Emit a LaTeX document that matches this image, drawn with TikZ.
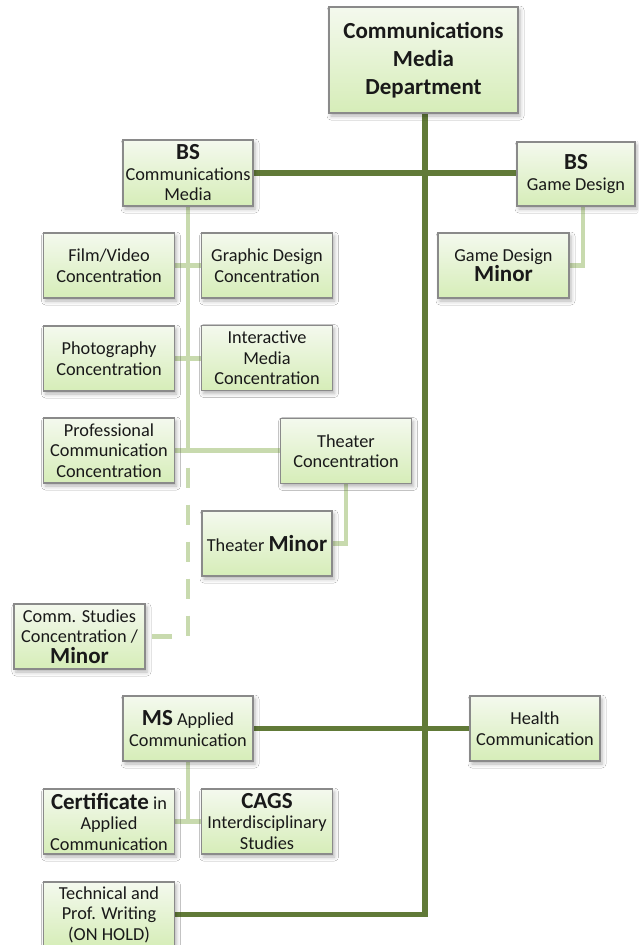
\documentclass[tikz,border=0pt]{standalone}
\usepackage{fontspec}
\setmainfont{Carlito}
\usetikzlibrary{shadows.blur,backgrounds}
\definecolor{boxtop}{HTML}{F4F9EE}
\definecolor{boxbot}{HTML}{D6EDB8}
\definecolor{boxborder}{HTML}{8A8A8A}
\definecolor{darkgreen}{HTML}{617A38}
\definecolor{lightgreen}{HTML}{C8DAAE}
\newcommand\bigb[1]{{\fontsize{23}{26}\selectfont\bfseries #1}}
\tikzset{
  orgbox/.style={draw=boxborder, line width=1.1pt, top color=boxtop, bottom color=boxbot,
    inner sep=0pt, align=center, text=black!90,
    font=\fontsize{18.3}{20.5}\selectfont,
    blur shadow={shadow xshift=2pt, shadow yshift=-3pt, shadow blur radius=4pt, shadow opacity=30}},
  stdbox/.style={orgbox, minimum width=131pt, minimum height=65pt},
  darkline/.style={draw=darkgreen, line width=5.5pt},
  lightline/.style={draw=lightgreen, line width=4.5pt},
}
\begin{document}
\begin{tikzpicture}[x=1pt,y=-1pt]
\useasboundingbox (0,0) rectangle (638,945);

\node[orgbox, minimum width=189pt, minimum height=106pt, font=\fontsize{23}{28}\selectfont\bfseries] (dept) at (423.5,60) {Communications\\Media\\Department};
\node[stdbox, minimum width=130pt, minimum height=66pt] (bscm) at (188,173) {\bigb{BS}\\Communications\\Media};
\node[orgbox, minimum width=118pt, minimum height=64pt] (bsgd) at (576,174) {\bigb{BS}\\Game Design};
\node[stdbox] (gdminor) at (503.5,265.5) {Game Design\\\bigb{Minor}};

\node[stdbox] (film) at (109,265.5) {Film/Video\\Concentration};
\node[stdbox] (graphic) at (267,265.5) {Graphic Design\\Concentration};
\node[stdbox] (photo) at (109,358.5) {Photography\\Concentration};
\node[stdbox] (inter) at (267,358) {Interactive\\Media\\Concentration};
\node[stdbox] (prof) at (109,450.5) {Professional\\Communication\\Concentration};
\node[stdbox] (theaterc) at (346,451) {Theater\\Concentration};
\node[stdbox, minimum width=130pt] (theaterm) at (267,543.5) {Theater \bigb{Minor}};
\node[stdbox] (comms) at (79.5,636.5) {Comm. Studies\\Concentration /\\\bigb{Minor}};

\node[stdbox, minimum width=130pt] (ms) at (188,728.5) {\bigb{MS} Applied\\Communication};
\node[stdbox, minimum width=130pt] (health) at (535,728.5) {Health\\Communication};
\node[stdbox] (cert) at (109,821.5) {\bigb{Certificate} in\\Applied\\Communication};
\node[stdbox] (cags) at (267,821.5) {\bigb{CAGS}\\Interdisciplinary\\Studies};
\node[stdbox] (tech) at (109,914.5) {Technical and\\Prof. Writing\\(ON HOLD)};

\coordinate (spine) at (425,113);
\coordinate (cmjoin) at (bscm.south |- prof.east);
\coordinate (gdjoin) at (583,206);

\begin{pgfonlayer}{background}
  \fill[white] (0,0) rectangle (638,945);
  % dark (main) connectors
  \draw[darkline] (spine) -- (spine |- tech.east) -- (tech.east);
  \draw[darkline] (bscm.east) -- (bscm.east -| bsgd.west);
  \draw[darkline] (ms.east) -- (health.west);
  % light connectors
  \draw[lightline] (bscm.south) -- (cmjoin);
  \draw[lightline] (prof.east) -- (prof.east -| theaterc.west);
  \draw[lightline] (film.east) -- (film.east -| graphic.west);
  \draw[lightline] (photo.east) -- (photo.east -| inter.west);
  \draw[lightline] (theaterc.south) -- (theaterc.south |- theaterm.east) -- (theaterm.east);
  \draw[lightline] (gdjoin) -- (gdjoin |- gdminor.east) -- (gdminor.east);
  \draw[lightline, dash pattern=on 20pt off 17pt, dash phase=20pt] (cmjoin) -- (cmjoin |- comms.east) -- (comms.east);
  \draw[lightline] (ms.south) -- (ms.south |- cert.east);
  \draw[lightline] (cert.east) -- (cert.east -| cags.west);
\end{pgfonlayer}
\end{tikzpicture}
\end{document}
